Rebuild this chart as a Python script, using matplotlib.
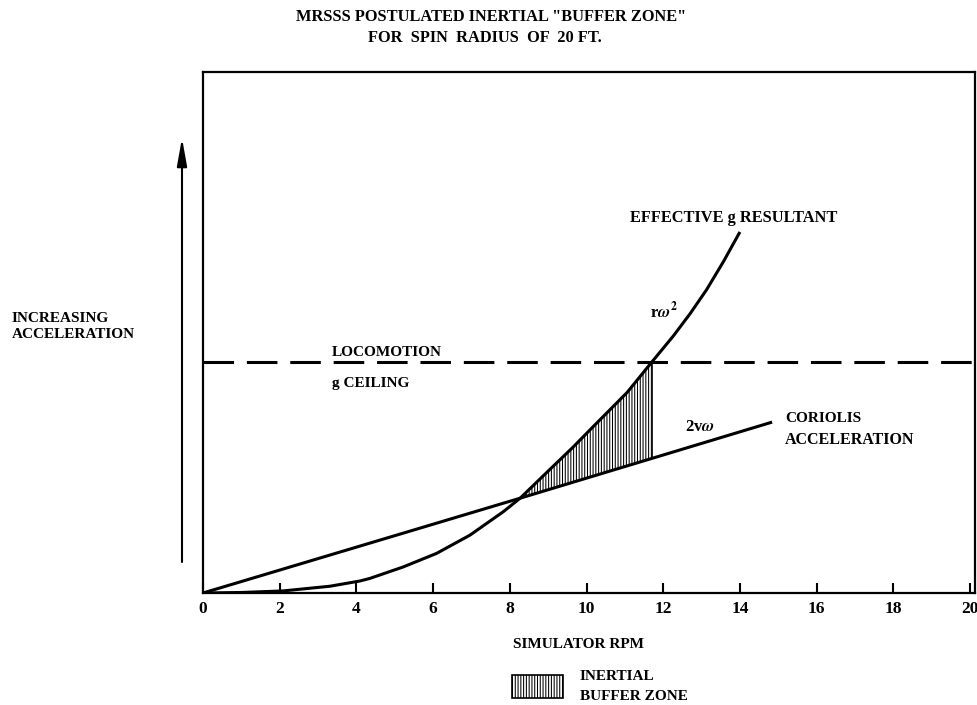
import numpy as np
import matplotlib
matplotlib.use("Agg")
import matplotlib.pyplot as plt
from matplotlib.patches import Rectangle

# ---- data ----
rpm_g = [0, 1.0, 2.09, 3.31, 4.09, 4.35, 5.22, 6.09, 6.96, 7.83, 8.27,
         9.0, 9.65, 10.17, 11.06, 11.7, 12.26, 12.70, 13.13, 13.57, 14.0]
accel_g = [0, 0.1, 0.4, 1.3, 2.3, 2.8, 5.0, 7.6, 11.1, 15.6, 18.2,
           23.4, 28.0, 31.9, 38.5, 44.3, 49.3, 53.6, 58.2, 63.6, 69.3]
rpm_cor = [0, 8.27, 14.84]
accel_cor = [0, 18.2, 32.8]
ceiling = 44.3
buffer_start, buffer_end = 8.27, 11.7
xticks = [0, 2, 4, 6, 8, 10, 12, 14, 16, 18, 20]

plt.rcParams['font.family'] = ['Liberation Serif', 'DejaVu Serif']
plt.rcParams['font.weight'] = 'bold'
plt.rcParams['mathtext.fontset'] = 'stix'
plt.rcParams['hatch.linewidth'] = 0.75

W, H = 977, 705
fig = plt.figure(figsize=(W/100, H/100), dpi=100)
ax = fig.add_axes([203/W, 1-593/H, 772/W, 521/H])

ax.set_xlim(0, 20.13)
ax.set_ylim(0, 100)

lw = 2.2
ax.plot(rpm_g, accel_g, color='black', lw=lw, solid_capstyle='butt', solid_joinstyle='round')
ax.plot(rpm_cor, accel_cor, color='black', lw=lw, solid_capstyle='butt')
ax.axhline(ceiling, color='black', lw=lw, dashes=(10, 4.2), dash_capstyle='butt')

# buffer zone fill
xs = np.array(rpm_g)
mask = (xs >= buffer_start) & (xs <= buffer_end)
fx = xs[mask]
fg = np.array(accel_g)[mask]
fc = np.interp(fx, rpm_cor, accel_cor)
ax.fill_between(fx, fc, fg, facecolor='none', edgecolor='black', hatch='|' * 6, linewidth=0)
ax.plot([buffer_end, buffer_end], [np.interp(buffer_end, rpm_cor, accel_cor), ceiling],
        color='black', lw=1.2)

for s in ax.spines.values():
    s.set_linewidth(1.6)
ax.set_xticks(xticks)
ax.set_xticklabels([str(t) for t in xticks], fontsize=12.5, fontweight='bold')
ax.tick_params(axis='x', direction='in', length=7, width=1.5, pad=6)
ax.set_yticks([])

def ftext(x, y, s, **kw):
    fig.text(x/W, 1-y/H, s, **kw)

fs = 11
ftext(491, 17, 'MRSSS POSTULATED INERTIAL "BUFFER ZONE"', ha='center', va='center', fontsize=11.8, fontweight='bold')
ftext(485, 38, 'FOR  SPIN  RADIUS  OF  20 FT.', ha='center', va='center', fontsize=11.8, fontweight='bold')
ftext(12, 318, 'INCREASING', ha='left', va='center', fontsize=fs, fontweight='bold')
ftext(12, 335, 'ACCELERATION', ha='left', va='center', fontsize=fs, fontweight='bold')
ftext(630, 218, 'EFFECTIVE g RESULTANT', ha='left', va='center', fontsize=11.8, fontweight='bold')
ftext(650, 311, r'r$\omega^{2}$', ha='left', va='center', fontsize=12, fontweight='bold')
ftext(685, 427, r'2v$\omega$', ha='left', va='center', fontsize=12, fontweight='bold')
ftext(785, 418, 'CORIOLIS', ha='left', va='center', fontsize=fs, fontweight='bold')
ftext(785, 440, 'ACCELERATION', ha='left', va='center', fontsize=11.5, fontweight='bold')
ftext(332, 353, 'LOCOMOTION', ha='left', va='center', fontsize=fs, fontweight='bold')
ftext(332, 383, 'g CEILING', ha='left', va='center', fontsize=fs, fontweight='bold')
ftext(513, 645, 'SIMULATOR RPM', ha='left', va='center', fontsize=fs, fontweight='bold')
ftext(580, 676, 'INERTIAL', ha='left', va='center', fontsize=fs, fontweight='bold')
ftext(580, 697, 'BUFFER ZONE', ha='left', va='center', fontsize=fs, fontweight='bold')

# legend patch
fig.add_artist(Rectangle((512/W, 1-698/H), 51/W, 23/H, transform=fig.transFigure,
                         facecolor='white', edgecolor='black', hatch='|' * 6, lw=1.2))

# y arrow
ax.annotate('', xy=(182, H-138), xytext=(182, H-562), xycoords='figure pixels',
            arrowprops=dict(arrowstyle='-|>,head_length=1.4,head_width=0.25', lw=1.5,
                            color='black', shrinkA=0, shrinkB=0, mutation_scale=12),
            annotation_clip=False)

fig.savefig('out.png', dpi=100)
